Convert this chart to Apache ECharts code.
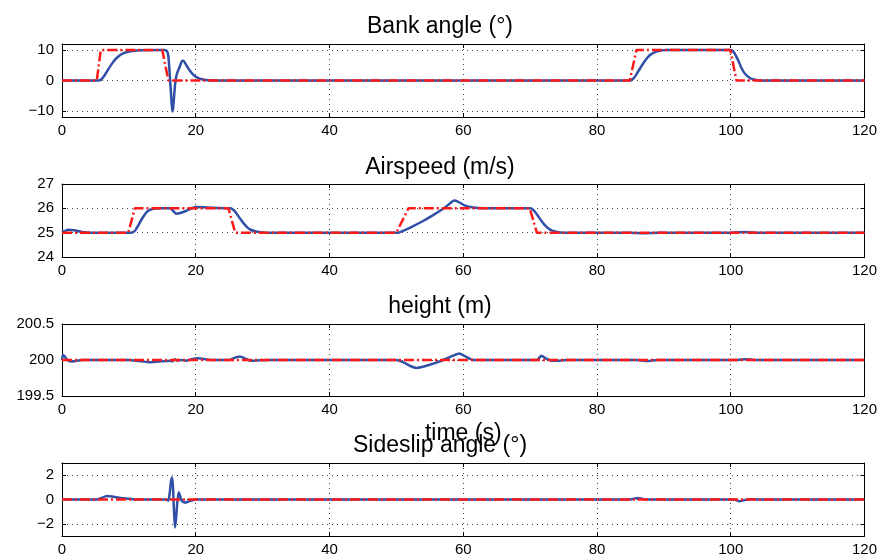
<!DOCTYPE html>
<html>
<head>
<meta charset="utf-8">
<script src="https://cdn.jsdelivr.net/npm/echarts@6/dist/echarts.min.js"></script>
<style>html,body{margin:0;padding:0;background:#fff}#c{width:880px;height:557px}</style>
</head>
<body>
<div id="c"></div>
<script>
// ---------- data ----------
const xTicks = [0, 20, 40, 60, 80, 100, 120];
const titles = ['Bank angle (°)', 'Airspeed (m/s)', 'height (m)', 'Sideslip angle (°)'];
const bankTicks = [-10, 0, 10];
const airTicks = [24, 25, 26, 27];
const heightTicks = [199.5, 200, 200.5];
const slipTicks = [-2, 0, 2];

const bankActual = [[0,0],[5.4,0],[5.9,0.4],[6.4,1.8],[6.9,3.6],[7.4,5.3],[8.0,7.0],[8.7,8.4],[9.5,9.2],[10.5,9.7],[12,9.95],[15.3,10],[15.7,9.6],[15.9,8],[16.05,4],[16.2,-1],[16.35,-6],[16.5,-10.2],[16.62,-9],[16.75,-5.5],[16.9,-1.5],[17.1,1.5],[17.35,3.2],[17.6,4.5],[17.9,6.3],[18.15,6.5],[18.5,5.4],[19.0,3.6],[19.5,2.2],[20.1,1.1],[21.1,0.3],[22.6,0],[85,0],[85.5,0.8],[86,2.4],[86.5,4.2],[87,5.9],[87.5,7.4],[88,8.5],[88.9,9.5],[90.4,10],[100,10],[100.4,9.5],[100.8,8],[101.2,6.2],[101.6,4.1],[102.1,2.3],[102.8,0.9],[103.5,0.3],[104.5,0],[120,0]];
const bankRef = [[0,0],[5.2,0],[5.8,10],[15.0,10],[15.9,0],[84.9,0],[85.9,10],[99.95,10],[100.85,0],[120,0]];

const airActual = [[0,25.08],[0.3,25.05],[0.9,25.12],[1.8,25.1],[3,25.03],[4.5,25],[10.3,25],[10.8,25.05],[11.3,25.25],[11.8,25.5],[12.3,25.72],[12.8,25.88],[13.5,25.97],[14.5,26],[16.2,26],[16.6,25.9],[17.1,25.78],[17.8,25.82],[18.6,25.9],[19.4,26.0],[20.1,26.05],[22.6,26.02],[25.2,26],[25.7,25.92],[26.2,25.75],[26.7,25.55],[27.2,25.37],[27.7,25.22],[28.2,25.12],[29,25.05],[30,25.01],[31,25],[50.3,25],[50.8,25.05],[52,25.2],[54,25.48],[55.5,25.72],[57,25.98],[58,26.2],[58.6,26.32],[59.2,26.28],[60.2,26.12],[61.5,26.03],[63,26],[70.1,26],[70.6,25.9],[71.1,25.72],[71.6,25.52],[72.1,25.34],[72.7,25.18],[73.3,25.08],[74,25.03],[75,25],[85,25],[87,24.98],[89,25],[100,25],[102,25.03],[104,25],[120,25]];
const airRef = [[0,25],[9.9,25],[10.9,26],[24.9,26],[25.9,25],[50,25],[51.8,26],[69.95,26],[71,25],[120,25]];

const heightActual = [[0,200.0],[0.15,200.07],[0.4,200.05],[0.8,200.0],[1.4,199.98],[2.2,199.99],[3,200],[10,200],[11.5,199.985],[13,199.97],[14.5,199.98],[16.2,199.99],[16.5,199.98],[16.9,200.01],[17.3,199.99],[17.8,200.0],[18.5,199.99],[19.4,200.01],[20.4,200.023],[21.5,200.01],[22.5,200],[25,200],[25.8,200.03],[26.6,200.05],[27.4,200.02],[28.2,199.99],[29.5,199.995],[31,200],[50,200],[51,199.97],[52,199.92],[53,199.89],[54.5,199.92],[56.5,199.98],[58.5,200.06],[59.4,200.09],[60.3,200.05],[61.5,200.0],[71,200],[71.7,200.06],[72.4,200.02],[73.2,199.99],[74.4,199.99],[75.5,200],[86,200],[87.5,199.985],[89,200],[101,200],[102.3,200.012],[103.5,200],[120,200]];
const heightRef = [[0,200],[120,200]];

const slipActual = [[0,0],[5.2,0],[5.8,0.1],[6.7,0.28],[7.5,0.24],[8.5,0.15],[9.5,0.08],[10.7,0.03],[12,0],[15.6,0],[15.9,-0.1],[16.1,0.5],[16.3,1.5],[16.45,1.8],[16.6,1.0],[16.75,-1.0],[16.9,-2.3],[17.05,-1.6],[17.25,-0.2],[17.45,0.6],[17.6,0.4],[17.9,-0.1],[18.4,-0.25],[19,-0.15],[20.1,0],[85,0],[85.6,0.08],[86.1,0.12],[86.8,0.05],[87.5,0],[100.5,0],[101.3,-0.15],[102,-0.05],[103,0.03],[104,0],[120,0]];
const slipRef = [[0,0],[120,0]];

// ---------- layout ----------
const FONT = 'Liberation Sans, Arial, Helvetica, sans-serif';
const panels = [
  {top: 44, height: 73, min: -12, max: 12, ticks: bankTicks, actual: bankActual, ref: bankRef, titleTop: 15},
  {top: 184, height: 73, min: 24, max: 27, ticks: airTicks, actual: airActual, ref: airRef, titleTop: 156},
  {top: 324, height: 72, min: 199.5, max: 200.5, ticks: heightTicks, actual: heightActual, ref: heightRef, titleTop: 295, xname: 'time (s)'},
  {top: 463, height: 74, min: -3, max: 3, ticks: slipTicks, actual: slipActual, ref: slipRef, titleTop: 434}
];
const fmt = v => String(v).replace('-', '\u2212');
const dotted = {show: true, lineStyle: {color: '#444', width: 1, type: [1, 4]}};
const grids = [], xAxes = [], yAxes = [], series = [], titleArr = [];
panels.forEach((p, i) => {
  grids.push({left: 62, right: 15, top: p.top, height: p.height, containLabel: false});
  titleArr.push({text: titles[i], left: 'center', top: p.titleTop, padding: 0,
    textStyle: {fontFamily: FONT, fontSize: 23, fontWeight: 'normal', color: '#000'}});
  const xBase = {gridIndex: i, type: 'value', min: 0, max: 120,
    axisLine: {onZero: false, lineStyle: {color: '#000', width: 1}},
    axisTick: {inside: true, length: 4, customValues: xTicks, lineStyle: {color: '#000'}}};
  xAxes.push(Object.assign({}, xBase, {position: 'bottom',
    axisLabel: {customValues: xTicks, fontFamily: FONT, fontSize: 15, color: '#000', margin: 6, formatter: fmt},
    splitLine: dotted,
    name: p.xname || '', nameLocation: 'middle', nameGap: 26,
    nameTextStyle: {fontFamily: FONT, fontSize: 23, color: '#000', verticalAlign: 'top'}}));
  xAxes.push(Object.assign({}, xBase, {position: 'top', axisLabel: {show: false}, splitLine: {show: false}}));
  const yBase = {gridIndex: i, type: 'value', min: p.min, max: p.max,
    axisLine: {show: true, onZero: false, lineStyle: {color: '#000', width: 1}},
    axisTick: {show: true, inside: true, length: 4, customValues: p.ticks, lineStyle: {color: '#000'}}};
  yAxes.push(Object.assign({}, yBase, {position: 'left',
    axisLabel: {customValues: p.ticks, fontFamily: FONT, fontSize: 15, color: '#000', margin: 8, formatter: fmt},
    splitLine: dotted}));
  yAxes.push(Object.assign({}, yBase, {position: 'right', axisLabel: {show: false}, splitLine: {show: false}}));
  series.push({type: 'line', xAxisIndex: 2 * i, yAxisIndex: 2 * i, data: p.actual, showSymbol: false,
    smooth: 0.2, lineStyle: {color: '#3050a8', width: 2.5}, z: 3, animation: false});
  series.push({type: 'line', xAxisIndex: 2 * i, yAxisIndex: 2 * i, data: p.ref, showSymbol: false,
    lineStyle: {color: '#ff1a1a', width: 2.5, type: [10, 3, 2, 3]}, z: 4, animation: false});
});

const chart = echarts.init(document.getElementById('c'), null, {renderer: 'canvas'});
chart.setOption({animation: false, backgroundColor: '#fff', title: titleArr, grid: grids,
  xAxis: xAxes, yAxis: yAxes, series: series});
</script>
</body>
</html>
